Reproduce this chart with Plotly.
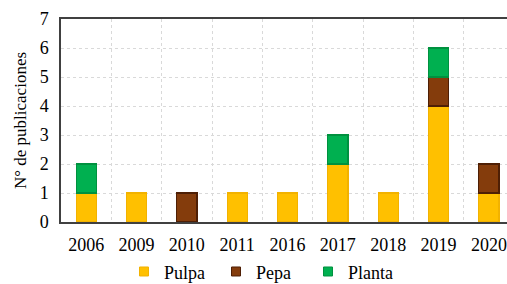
import plotly.graph_objects as go

years = ["2006", "2009", "2010", "2011", "2016", "2017", "2018", "2019", "2020"]
pulpa = [1, 1, None, 1, 1, 2, 1, 4, 1]
pepa = [None, None, 1, None, None, None, None, 1, 1]
planta = [1, None, None, None, None, 1, None, 1, None]

series = [
    ("Pulpa", pulpa, "#FFC000", "#F2B200"),
    ("Pepa", pepa, "#843C0C", "#4E1F05"),
    ("Planta", planta, "#00B050", "#00913F"),
]

FONT = "Liberation Serif"

fig = go.Figure()
for name, vals, col, edge in series:
    fig.add_trace(go.Bar(
        x=years, y=vals, name=name, width=0.4,
        marker=dict(color=col, line=dict(color=edge, width=1.2)),
        showlegend=False,
    ))
for name, vals, col, edge in series:
    fig.add_trace(go.Scatter(
        x=[None], y=[None], mode="markers", name=name,
        marker=dict(symbol="square", size=9, color=col, line=dict(color=edge, width=1)),
    ))

fig.update_layout(
    width=507, height=284,
    barmode="stack",
    plot_bgcolor="white", paper_bgcolor="white",
    margin=dict(l=61, r=0, t=19, b=62, autoexpand=False),
    font=dict(family=FONT, size=18, color="black"),
    legend=dict(
        orientation="h", xref="container", yref="container",
        x=124 / 507, xanchor="left", y=0.043, yanchor="middle",
        font=dict(family=FONT, size=18), itemwidth=30, entrywidth=47,
        traceorder="normal",
    ),
)
fig.update_xaxes(
    type="category", range=[-0.5, 8.36], tickson="boundaries",
    showgrid=True, gridcolor="#D9D9D9", griddash="dot", gridwidth=1,
    showline=True, linecolor="#404040", linewidth=1.5, mirror=True,
    ticks="", ticklabelstandoff=6, automargin=False,
    tickfont=dict(family=FONT, size=18),
)
fig.update_yaxes(
    range=[0, 7], dtick=1,
    showgrid=True, gridcolor="#D9D9D9", griddash="dot", gridwidth=1,
    showline=True, linecolor="#404040", linewidth=1.5,
    zeroline=False, ticks="", ticklabelstandoff=7, automargin=False,
    tickfont=dict(family=FONT, size=18),
    title=dict(text="N° de publicaciones", standoff=9, font=dict(family=FONT, size=17)),
)

fig.write_html(
    "out.html",
    config={"displayModeBar": False},
    post_script="document.body.style.margin='0';document.body.style.overflow='hidden';",
)
